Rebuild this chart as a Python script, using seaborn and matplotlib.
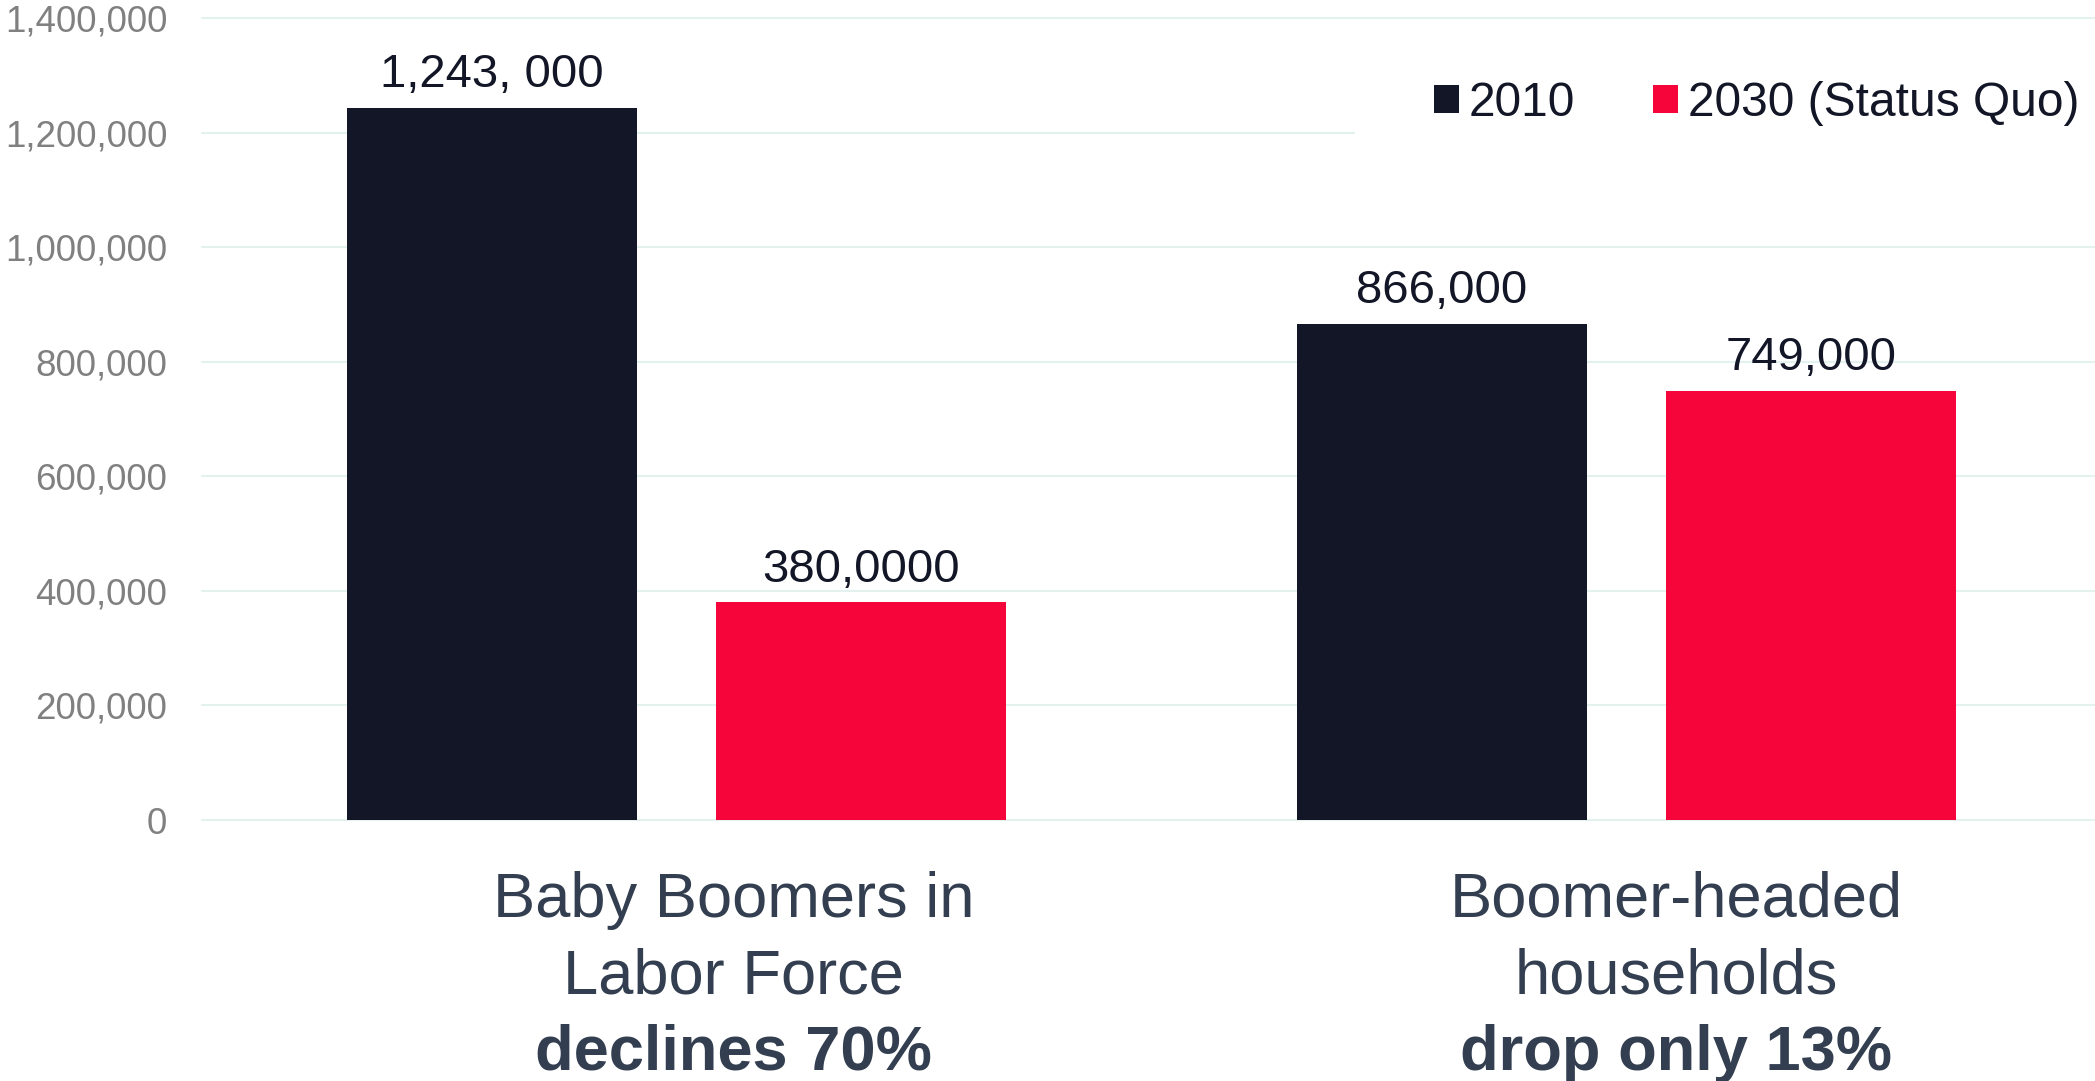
import matplotlib
matplotlib.use("Agg")
import matplotlib.pyplot as plt
from matplotlib.patches import Patch, Rectangle
from matplotlib.ticker import FuncFormatter
import pandas as pd
import seaborn as sns

# ---- data ----
years = ["2010", "2030 (Status Quo)"]
categories = ["Baby Boomers in Labor Force", "Boomer-headed households"]
values_2010 = [1243000, 866000]
values_2030 = [380000, 749000]
labels_2010 = ["1,243, 000", "866,000"]
labels_2030 = ["380,0000", "749,000"]
category_lines = [["Baby Boomers in", "Labor Force"], ["Boomer-headed", "households"]]
category_emphasis = ["declines 70%", "drop only 13%"]
y_ticks = [0, 200000, 400000, 600000, 800000, 1000000, 1200000, 1400000]

# ---- style ----
NAVY = "#121626"
RED = "#f5053a"
SLATE = "#333f50"
GREY = "#808080"
GRID = "#e3f2ee"

sns.set_theme(style="white")
plt.rcParams["font.family"] = ["Liberation Sans", "DejaVu Sans"]

df = pd.DataFrame({
    "category": categories * 2,
    "year": [years[0]] * len(categories) + [years[1]] * len(categories),
    "value": values_2010 + values_2030,
})

W, H = 2095, 1081
fig = plt.figure(figsize=(W / 100, H / 100), dpi=100)
# plot area runs slightly past the right edge so the gridlines bleed off
ax = fig.add_axes([202 / W, 1 - 820 / H, 1899 / W, (820 - 18.3) / H])

sns.barplot(
    data=df, x="category", y="value", hue="year",
    order=categories, hue_order=years, palette=[NAVY, RED],
    width=0.777, gap=0.214, saturation=1, errorbar=None,
    linewidth=0, legend=False, ax=ax,
)

ax.set_xlim(-0.5, 1.5)
ax.set_ylim(0, 1400000)
ax.set_yticks(y_ticks)
ax.yaxis.set_major_formatter(FuncFormatter(lambda v, _: f"{v:,.0f}"))
ax.tick_params(axis="y", length=0, pad=25, labelsize=26.5, labelcolor=GREY)
ax.set_xticks([])
ax.set_xlabel("")
ax.set_ylabel("")
sns.despine(ax=ax, left=True, bottom=True)
ax.set_axisbelow(True)
ax.grid(axis="y", color=GRID, linewidth=1.5)
for gl in ax.get_ygridlines():
    gl.set_clip_on(False)

# value labels above bars
for container, labels in zip(ax.containers, [labels_2010, labels_2030]):
    ax.bar_label(container, labels=labels, padding=7.8, fontsize=34, color=NAVY)

# category captions under each group
x_shift_pt = [41, 36]
cat_size = 45.5
for i, lines in enumerate(category_lines):
    for j, line in enumerate(lines):
        ax.annotate(line, xy=(i, 0), xycoords="data",
                    xytext=(x_shift_pt[i], -(69.6 + 55.2 * j)),
                    textcoords="offset points", ha="center", va="baseline",
                    fontsize=cat_size, color=SLATE, annotation_clip=False)
    ax.annotate(category_emphasis[i], xy=(i, 0), xycoords="data",
                xytext=(x_shift_pt[i], -180.0),
                textcoords="offset points", ha="center", va="baseline",
                fontsize=cat_size, fontweight="bold", color=SLATE,
                annotation_clip=False)

# legend on a white band
ax.add_patch(Rectangle((0.607, 0.842), 0.393, 0.125, transform=ax.transAxes,
                       facecolor="white", edgecolor="none", zorder=0.9))
legend_size = 34.5
fs_px = legend_size * 100 / 72
handles = [Patch(facecolor=NAVY, edgecolor="none", linewidth=0),
           Patch(facecolor=RED, edgecolor="none", linewidth=0)]
ax.legend(handles, years, loc="center left",
          bbox_to_anchor=(1434 / W, 1 - 103 / H), bbox_transform=fig.transFigure,
          ncol=2, frameon=False, borderpad=0, borderaxespad=0,
          handlelength=25 / fs_px, handleheight=25 / fs_px,
          handletextpad=10 / fs_px, columnspacing=78 / fs_px,
          prop={"size": legend_size}, labelcolor=NAVY)

fig.savefig("out.png", dpi=100)
